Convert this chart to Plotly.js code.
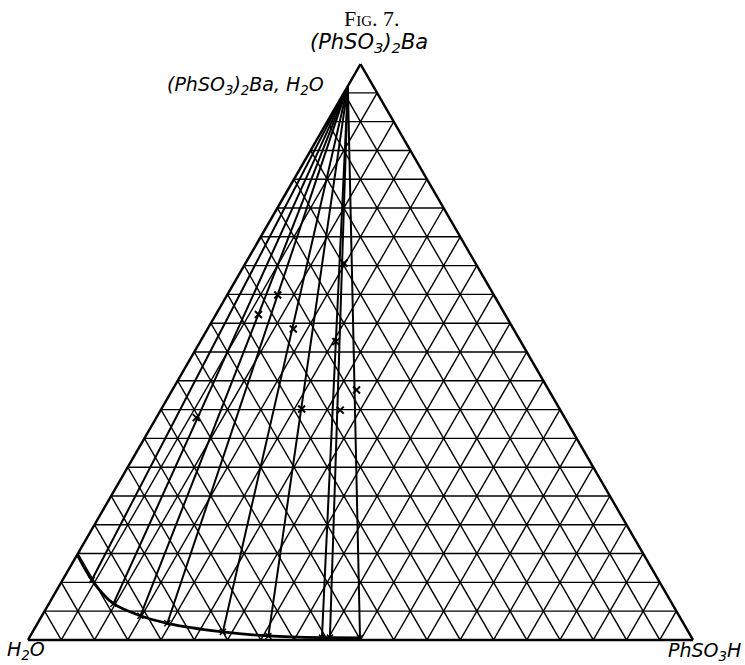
<!DOCTYPE html>
<html>
<head>
<meta charset="utf-8">
<script src="https://cdn.plot.ly/plotly-3.0.1.min.js"></script>
<style>html,body{margin:0;padding:0;background:#fff;}#chart{width:745px;height:665px;}</style>
</head>
<body>
<div id="chart"></div>
<script>
// Hydrate point (PhSO3)2Ba,H2O : fractions of (PhSO3)2Ba (a), H2O (b), PhSO3H (c)
const hydrateA = [0.962];
const hydrateC = [0.0];

// Solubility curve points (liquid compositions)
const curveA = [0.148, 0.104, 0.063, 0.042, 0.029, 0.014, 0.007, 0.004, 0.004, 0.0035];
const curveC = [0.000, 0.044, 0.097, 0.148, 0.195, 0.286, 0.358, 0.440, 0.452, 0.4975];

// Total-mixture compositions (x marks on tie lines)
const mixA = [0.599, 0.565, 0.540, 0.518, 0.434, 0.401, 0.399, 0.386, 0.654];
const mixC = [0.076, 0.064, 0.129, 0.204, 0.277, 0.211, 0.270, 0.060, 0.148];

// Vertex labels
const labelTop = '(PhSO<sub>3</sub>)<sub>2</sub>Ba';
const labelHydrate = '(PhSO<sub>3</sub>)<sub>2</sub>Ba, H<sub>2</sub>O';
const labelLeft = 'H<sub>2</sub>O';
const labelRight = 'PhSO<sub>3</sub>H';
const figTitle = 'Fig. 7.';

const W = 745, H = 665;
const bOf = (a, c) => a.map((v, i) => 1 - v - c[i]);

const traces = [];
// tie lines from hydrate point to each curve point (except the first, on the edge)
for (let i = 1; i < curveA.length; i++) {
  const a = [hydrateA[0], curveA[i]];
  const c = [hydrateC[0], curveC[i]];
  traces.push({
    type: 'scatterternary', mode: 'lines',
    a: a, b: bOf(a, c), c: c,
    line: {color: '#000', width: 2},
    hoverinfo: 'skip', showlegend: false
  });
}
// solubility curve
traces.push({
  type: 'scatterternary', mode: 'lines+markers',
  a: curveA, b: bOf(curveA, curveC), c: curveC,
  line: {color: '#000', width: 2.8, shape: 'spline', smoothing: 0.8},
  marker: {symbol: 'x-thin', size: 6, line: {color: '#000', width: 1.5}, color: '#000'},
  showlegend: false
});
// mixture points
traces.push({
  type: 'scatterternary', mode: 'markers',
  a: mixA, b: bOf(mixA, mixC), c: mixC,
  marker: {symbol: 'x-thin', size: 7, line: {color: '#000', width: 2}, color: '#000'},
  showlegend: false
});

const axisCommon = {
  tickmode: 'linear', tick0: 0, dtick: 0.05,
  showgrid: true, gridcolor: '#000', gridwidth: 1.4,
  showline: true, linecolor: '#000', linewidth: 2.4,
  ticks: '', showticklabels: false,
  title: {text: ''}
};

const lblFont = {family: 'DejaVu Sans', size: 19, color: '#000', style: 'italic'};
const px = x => x / W, py = y => 1 - y / H;

const layout = {
  width: W, height: H,
  margin: {l: 0, r: 0, t: 0, b: 0},
  paper_bgcolor: '#fff',
  showlegend: false,
  ternary: {
    sum: 1,
    domain: {x: [28 / W, 693 / W], y: [1 - 640 / H, 1 - 64 / H]},
    bgcolor: '#fff',
    aaxis: Object.assign({}, axisCommon),
    baxis: Object.assign({}, axisCommon),
    caxis: Object.assign({}, axisCommon)
  },
  annotations: [
    {text: figTitle, x: px(372), y: py(18), xref: 'paper', yref: 'paper', showarrow: false,
     xanchor: 'center', yanchor: 'middle',
     font: {family: 'Liberation Serif', size: 22, color: '#000', variant: 'small-caps'}},
    {text: labelTop, x: px(369), y: py(43), xref: 'paper', yref: 'paper', showarrow: false,
     xanchor: 'center', yanchor: 'middle',
     font: {family: 'DejaVu Sans', size: 21, color: '#000', style: 'italic'}},
    {text: labelHydrate, x: px(326), y: py(85), xref: 'paper', yref: 'paper', showarrow: false,
     xanchor: 'right', yanchor: 'middle', font: lblFont},
    {text: labelLeft, x: px(5), y: py(650), xref: 'paper', yref: 'paper', showarrow: false,
     xanchor: 'left', yanchor: 'middle', font: lblFont},
    {text: labelRight, x: px(743), y: py(651), xref: 'paper', yref: 'paper', showarrow: false,
     xanchor: 'right', yanchor: 'middle', font: lblFont}
  ]
};

Plotly.newPlot('chart', traces, layout, {displayModeBar: false, staticPlot: true});
</script>
</body>
</html>
